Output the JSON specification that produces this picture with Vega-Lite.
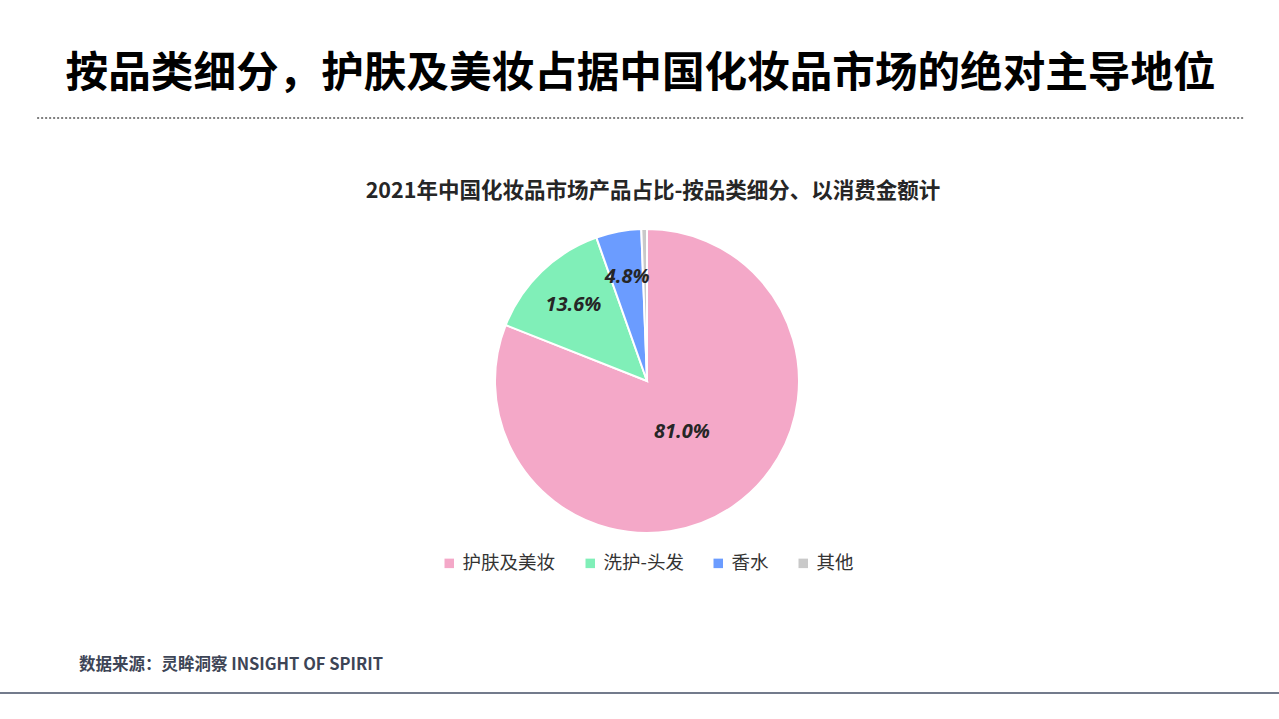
{
  "$schema": "https://vega.github.io/schema/vega-lite/v6.json",
  "background": "white",
  "padding": {"top": 52, "left": 0, "right": 0, "bottom": 0},
  "spacing": 61,
  "center": true,
  "resolve": {"scale": {"color": "independent"}, "legend": {"color": "independent"}},
  "config": {
    "font": "Noto Sans CJK SC",
    "view": {"stroke": null},
    "legend": {"layout": {"bottom": {"anchor": "middle"}}}
  },
  "vconcat": [
    {
      "width": 1207,
      "height": 0.01,
      "title": {"text": "按品类细分，护肤及美妆占据中国化妆品市场的绝对主导地位", "fontSize": 42.6, "fontWeight": "bold", "color": "#000000", "anchor": "middle", "offset": 22.4},
      "view": {"stroke": "#555555", "strokeDash": [2, 2], "strokeWidth": 1.5},
      "data": {"values": []},
      "mark": {"type": "point", "opacity": 0},
      "encoding": {}
    },
    {
      "spacing": 0,
      "resolve": {"scale": {"color": "independent"}, "legend": {"color": "independent"}},
      "hconcat": [
        {
          "width": 12,
          "height": 0.01,
          "data": {"values": []},
          "mark": {"type": "point", "opacity": 0},
          "encoding": {}
        },
        {
          "width": 1250,
          "height": 304,
          "title": {"text": "2021年中国化妆品市场产品占比-按品类细分、以消费金额计", "fontSize": 21.5, "fontWeight": "bold", "color": "#262626", "anchor": "middle", "offset": 23, "dx": 6},
          "data": {"values": [
            {"category": "护肤及美妆", "share": 0.810, "order": 1},
            {"category": "洗护-头发", "share": 0.136, "order": 2},
            {"category": "香水", "share": 0.048, "order": 3},
            {"category": "其他", "share": 0.006, "order": 4}
          ]},
          "encoding": {
            "theta": {"field": "share", "type": "quantitative", "stack": true},
            "order": {"field": "order", "type": "quantitative"}
          },
          "layer": [
            {
              "mark": {"type": "arc", "stroke": "white", "strokeWidth": 2},
              "encoding": {
                "color": {
                  "field": "category", "type": "nominal",
                  "scale": {"domain": ["护肤及美妆", "洗护-头发", "香水", "其他"], "range": ["#F4A8C8", "#80EFB8", "#6B9CFF", "#C9C9C9"]},
                  "legend": {"title": null, "orient": "bottom", "direction": "horizontal", "symbolType": "square", "symbolSize": 90, "symbolStrokeWidth": 0, "labelFontSize": 18.5, "labelColor": "#333333", "labelOffset": 4, "columnPadding": 25, "offset": 0, "padding": 21}
                }
              }
            },
            {
              "mark": {"type": "text", "radius": 62, "font": "Open Sans", "fontSize": 20, "fontWeight": "bold", "fontStyle": "italic", "fill": "#262626"},
              "encoding": {
                "text": {"condition": {"test": "datum.share > 0.5", "field": "share", "type": "quantitative", "format": ".1%"}, "value": ""}
              }
            },
            {
              "mark": {"type": "text", "radius": 106, "font": "Open Sans", "fontSize": 20, "fontWeight": "bold", "fontStyle": "italic", "fill": "#262626"},
              "encoding": {
                "text": {"condition": {"test": "datum.share > 0.01 && datum.share < 0.5", "field": "share", "type": "quantitative", "format": ".1%"}, "value": ""}
              }
            }
          ]
        }
      ]
    },
    {
      "width": 1279,
      "height": 0.01,
      "title": {"text": "数据来源：灵眸洞察 INSIGHT OF SPIRIT", "fontSize": 16.5, "fontWeight": "bold", "color": "#3D4556", "anchor": "start", "dx": 78, "offset": 20},
      "view": {"stroke": "#737B8C", "strokeWidth": 2},
      "data": {"values": []},
      "mark": {"type": "point", "opacity": 0},
      "encoding": {}
    }
  ]
}
